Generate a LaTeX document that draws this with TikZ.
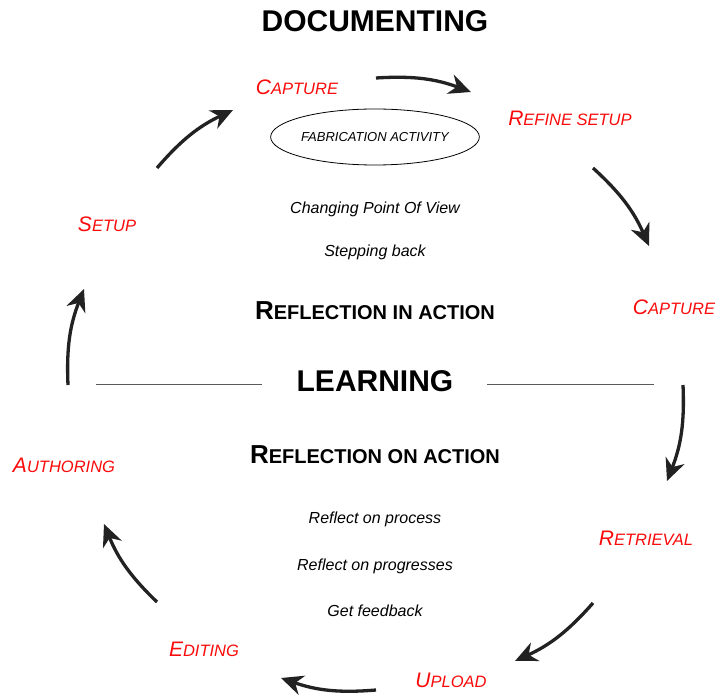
\documentclass[tikz,border=0pt]{standalone}
\usepackage{fontspec}
\setmainfont{Liberation Sans}
\usetikzlibrary{arrows.meta,shapes.geometric}
\definecolor{capred}{RGB}{250,10,10}
\definecolor{arr}{RGB}{34,34,34}
\definecolor{rule}{RGB}{90,90,90}
\newcommand{\redsc}[2]{{\fontsize{21pt}{25pt}\selectfont #1}{\fontsize{16.5pt}{20pt}\selectfont #2}}
\newcommand{\boldsc}[2]{{\fontsize{26pt}{30pt}\selectfont #1}{\fontsize{20pt}{24pt}\selectfont #2}}
\tikzset{
  redlbl/.style={text=capred, font=\itshape, inner sep=0pt},
  bigtitle/.style={font=\bfseries\fontsize{30pt}{36pt}\selectfont, inner sep=0pt},
  refl/.style={font=\bfseries, inner sep=0pt},
  note/.style={font=\itshape\fontsize{16pt}{19pt}\selectfont, inner sep=0pt},
  cyc/.style={draw=arr, line width=3.3pt, -{Stealth[length=22pt,width=20pt,inset=7pt]}, bend left=12},
  hrule/.style={draw=rule, line width=1pt},
}
\begin{document}
\begin{tikzpicture}[x=1pt,y=1pt]
\useasboundingbox (0,0) rectangle (716,-695);
% titles
\node[bigtitle] (doc) at (375,-21) {DOCUMENTING};
\node[bigtitle] (learn) at (375,-381) {LEARNING};
\node[refl] (rin) at (375,-311) {\boldsc{R}{EFLECTION IN ACTION}};
\node[refl] (ron) at (375,-455) {\boldsc{R}{EFLECTION ON ACTION}};
% ellipse
\node[draw, ellipse, line width=0.8pt, minimum width=207pt, minimum height=56pt, inner sep=0pt,
      font=\itshape\fontsize{13pt}{15pt}\selectfont] (fab) at (375,-137) {FABRICATION ACTIVITY};
% notes
\node[note] (cpov) at (375,-209) {Changing Point Of View};
\node[note] (sb) at (375,-252) {Stepping back};
\node[note] (rop) at (375,-519) {Reflect on process};
\node[note] (ropr) at (375,-566) {Reflect on progresses};
\node[note] (gf) at (375,-611) {Get feedback};
% rules
\coordinate (l1) at (96,-385);
\coordinate (l2) at (262,-385);
\coordinate (r1) at (487,-385);
\coordinate (r2) at (654,-385);
\draw[hrule] (l1) -- (l2);
\draw[hrule] (r1) -- (r2);
% red labels
\node[redlbl] (cap1) at (297,-87) {\redsc{C}{APTURE}};
\node[redlbl] (ref) at (570,-118) {\redsc{R}{EFINE SETUP}};
\node[redlbl] (cap2) at (674,-307) {\redsc{C}{APTURE}};
\node[redlbl] (ret) at (646,-538) {\redsc{R}{ETRIEVAL}};
\node[redlbl] (upl) at (451,-680) {\redsc{U}{PLOAD}};
\node[redlbl] (edi) at (204,-649) {\redsc{E}{DITING}};
\node[redlbl] (aut) at (64,-465) {\redsc{A}{UTHORING}};
\node[redlbl] (set) at (107,-224) {\redsc{S}{ETUP}};
% arrow end points
\coordinate (a1s) at (376,-78);  \coordinate (a1e) at (471,-92);
\coordinate (a2s) at (593,-168); \coordinate (a2e) at (649,-246);
\coordinate (a3s) at (683,-385); \coordinate (a3e) at (667,-481);
\coordinate (a4s) at (593,-603); \coordinate (a4e) at (515,-661);
\coordinate (a5s) at (376,-690); \coordinate (a5e) at (281,-678);
\coordinate (a6s) at (157,-602); \coordinate (a6e) at (104,-524);
\coordinate (a7s) at (68,-385);  \coordinate (a7e) at (84,-289);
\coordinate (a8s) at (157,-168); \coordinate (a8e) at (233,-110);
\draw[cyc] (a1s) to (a1e);
\draw[cyc] (a2s) to (a2e);
\draw[cyc] (a3s) to (a3e);
\draw[cyc] (a4s) to (a4e);
\draw[cyc] (a5s) to (a5e);
\draw[cyc] (a6s) to (a6e);
\draw[cyc] (a7s) to (a7e);
\draw[cyc] (a8s) to (a8e);
\end{tikzpicture}
\end{document}
